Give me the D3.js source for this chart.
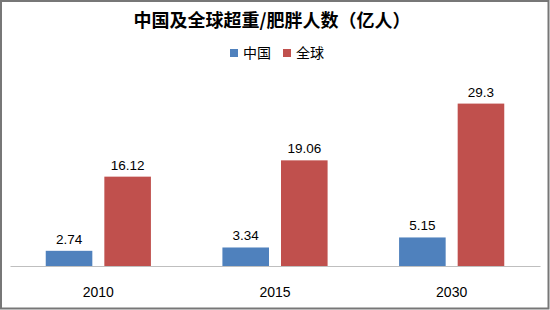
<!DOCTYPE html>
<html>
<head>
<meta charset="utf-8">
<script src="https://cdn.jsdelivr.net/npm/d3@7"></script>
<style>
  body { margin: 0; background: #fff; }
  svg { display: block; }
</style>
</head>
<body>
<script>
var width = 550
var height = 310

// data
var years = ['2010', '2015', '2030']
var seriesNames = ['中国', '全球']
var chinaValues = [2.74, 3.34, 5.15]
var worldValues = [16.12, 19.06, 29.3]
var colours = ['#4F81BD', '#C0504D']

var rows = years.map(function (y, i) {
  return { year: y, values: [chinaValues[i], worldValues[i]] }
})

var svg = d3.select('body').append('svg')
  .attr('width', width)
  .attr('height', height)

// frame
svg.append('rect')
  .attr('x', 1).attr('y', 1)
  .attr('width', width - 2.5).attr('height', height - 2.5)
  .attr('fill', '#fff')
  .attr('stroke', '#777')
  .attr('stroke-width', 2)

var baseY = 266

var x0 = d3.scaleBand()
  .domain(years)
  .range([10, 540])

var x1 = d3.scaleBand()
  .domain(d3.range(seriesNames.length))
  .range([0, x0.bandwidth()])
  .paddingInner(0.205)
  .paddingOuter(0.61)

var y = d3.scaleLinear()
  .domain([0, 35])
  .range([baseY, 72])

// title
svg.append('text')
  .attr('x', 272)
  .attr('y', 27)
  .attr('text-anchor', 'middle')
  .style('font-family', '"Noto Sans CJK SC", sans-serif')
  .style('font-size', '18px')
  .style('font-weight', 'bold')
  .attr('fill', '#000')
  .text('中国及全球超重/肥胖人数（亿人）')

// legend
var legend = svg.append('g')
  .attr('transform', 'translate(230,0)')
var legendX = [0, 53]
seriesNames.forEach(function (name, i) {
  var g = legend.append('g').attr('transform', 'translate(' + legendX[i] + ',0)')
  g.append('rect')
    .attr('x', 0).attr('y', 49)
    .attr('width', 8).attr('height', 8)
    .attr('fill', colours[i])
  g.append('text')
    .attr('x', 13).attr('y', 58)
    .style('font-family', '"Noto Sans CJK SC", sans-serif')
    .style('font-size', '14px')
    .attr('fill', '#000')
    .text(name)
})

// bars
var groups = svg.selectAll('.group')
  .data(rows)
  .enter().append('g')
  .attr('class', 'group')
  .attr('transform', function (d) { return 'translate(' + x0(d.year) + ',0)' })

groups.selectAll('rect')
  .data(function (d) { return d.values.map(function (v, i) { return { i: i, v: v } }) })
  .enter().append('rect')
  .attr('x', function (d) { return x1(d.i) })
  .attr('width', x1.bandwidth())
  .attr('y', function (d) { return y(d.v) })
  .attr('height', function (d) { return baseY - y(d.v) })
  .attr('fill', function (d) { return colours[d.i] })

groups.selectAll('.val')
  .data(function (d) { return d.values.map(function (v, i) { return { i: i, v: v } }) })
  .enter().append('text')
  .attr('class', 'val')
  .attr('x', function (d) { return x1(d.i) + x1.bandwidth() / 2 })
  .attr('y', function (d) { return y(d.v) - 7 })
  .attr('text-anchor', 'middle')
  .style('font-family', '"Liberation Sans", sans-serif')
  .style('font-size', '13.5px')
  .attr('fill', '#000')
  .text(function (d) { return d.v })

// x axis
var xAxis = svg.append('g')
  .attr('transform', 'translate(0,' + baseY + ')')
  .call(d3.axisBottom(x0).tickSize(0).tickPadding(21))
xAxis.select('.domain').attr('stroke', '#BFBFBF').attr('stroke-width', 1)
xAxis.selectAll('text')
  .style('font-family', '"Liberation Sans", sans-serif')
  .style('font-size', '14px')
  .attr('fill', '#000')
</script>
</body>
</html>
